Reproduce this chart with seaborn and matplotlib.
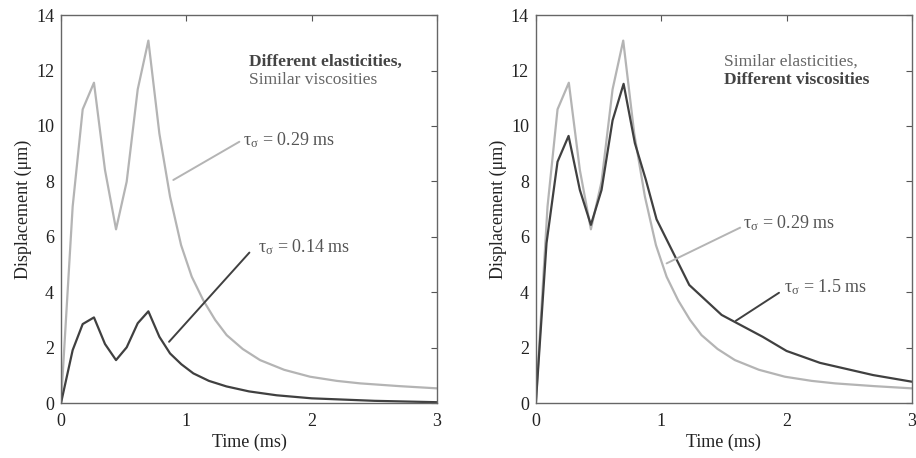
import numpy as np
import pandas as pd
import matplotlib
matplotlib.use('Agg')
import matplotlib.pyplot as plt
import seaborn as sns

# data (time in ms, displacement in um)
t_029 = [0, 0.093, 0.173, 0.263, 0.351, 0.439, 0.524, 0.612, 0.697, 0.785,
         0.87, 0.958, 1.043, 1.136, 1.23, 1.322, 1.45, 1.588, 1.78, 1.987,
         2.2, 2.386, 2.7, 3.0]
d_029 = [0, 7.09, 10.6, 11.56, 8.41, 6.27, 7.99, 11.32, 13.08, 9.72,
         7.45, 5.7, 4.56, 3.7, 3.0, 2.45, 1.95, 1.55, 1.2, 0.95,
         0.8, 0.71, 0.61, 0.53]

t_014 = [0, 0.093, 0.173, 0.263, 0.351, 0.439, 0.524, 0.612, 0.697, 0.785,
         0.87, 0.96, 1.056, 1.18, 1.32, 1.5, 1.72, 2.0, 2.5, 3.0]
d_014 = [0, 1.91, 2.85, 3.09, 2.13, 1.55, 2.01, 2.88, 3.31, 2.39,
         1.79, 1.4, 1.07, 0.8, 0.6, 0.42, 0.28, 0.17, 0.08, 0.03]

t_15 = [0, 0.085, 0.173, 0.261, 0.351, 0.439, 0.524, 0.612, 0.70, 0.79,
        0.878, 0.963, 1.224, 1.482, 1.81, 2.0, 2.267, 2.69, 3.0]
d_15 = [0, 5.77, 8.71, 9.64, 7.69, 6.43, 7.69, 10.2, 11.52, 9.38,
        8.05, 6.63, 4.26, 3.18, 2.39, 1.88, 1.45, 1.01, 0.77]

light = '#b4b4b4'
dark = '#404040'

sns.set_style('white')
plt.rcParams['font.family'] = ['Liberation Serif', 'DejaVu Serif']
plt.rcParams['mathtext.default'] = 'regular'

fig = plt.figure(figsize=(9.16, 4.58), dpi=100)
ax1 = fig.add_axes([0.0666, 0.120, 0.4105, 0.847])
ax2 = fig.add_axes([0.585, 0.120, 0.4105, 0.847])

df_029 = pd.DataFrame({'t': t_029, 'd': d_029})
df_014 = pd.DataFrame({'t': t_014, 'd': d_014})
df_15 = pd.DataFrame({'t': t_15, 'd': d_15})

sns.lineplot(data=df_029, x='t', y='d', color=light, lw=1.6, ax=ax1)
sns.lineplot(data=df_014, x='t', y='d', color=dark, lw=1.6, ax=ax1)
sns.lineplot(data=df_029, x='t', y='d', color=light, lw=1.6, ax=ax2)
sns.lineplot(data=df_15, x='t', y='d', color=dark, lw=1.6, ax=ax2)

for ax in (ax1, ax2):
    ax.set_xlim(0, 3)
    ax.set_ylim(0, 14)
    ax.set_xticks([0, 1, 2, 3])
    ax.set_yticks(range(0, 15, 2))
    ax.tick_params(direction='in', top=True, right=True, length=4,
                   width=0.8, color='#555555', labelsize=13,
                   labelcolor='#222222')
    ax.tick_params(axis='x', pad=7)
    ax.tick_params(axis='y', pad=5)
    for s in ax.spines.values():
        s.set_color('#666666')
        s.set_linewidth(1.0)
    ax.set_xlabel('Time (ms)', fontsize=13, color='#222222', labelpad=3)
    ax.set_ylabel('Displacement (μm)', fontsize=13, color='#222222', labelpad=3)

# left panel annotations
ax1.text(1.503, 12.31, 'Different elasticities,', fontsize=12.5,
         fontweight='bold', color='#444444', va='center')
ax1.text(1.503, 11.66, 'Similar viscosities', fontsize=12.5,
         color='#666666', va='center')
ax1.plot([0.896, 1.423], [8.05, 9.43], color=light, lw=1.4)
ax1.text(1.45, 9.5, r'$\tau_\sigma$ = 0.29 ms', fontsize=13,
         color='#555555', va='center')
ax1.plot([0.862, 1.503], [2.21, 5.43], color=dark, lw=1.4)
ax1.text(1.57, 5.64, r'$\tau_\sigma$ = 0.14 ms', fontsize=13,
         color='#555555', va='center')

# right panel annotations
ax2.text(1.5, 12.31, 'Similar elasticities,', fontsize=12.5,
         color='#666666', va='center')
ax2.text(1.5, 11.66, 'Different viscosities', fontsize=12.5,
         fontweight='bold', color='#444444', va='center')
ax2.plot([1.043, 1.63], [5.04, 6.33], color=light, lw=1.4)
ax2.text(1.655, 6.49, r'$\tau_\sigma$ = 0.29 ms', fontsize=13,
         color='#555555', va='center')
ax2.plot([1.596, 1.94], [2.97, 3.98], color=dark, lw=1.4)
ax2.text(1.98, 4.18, r'$\tau_\sigma$ = 1.5 ms', fontsize=13,
         color='#555555', va='center')

plt.savefig('out.png', dpi=100)
